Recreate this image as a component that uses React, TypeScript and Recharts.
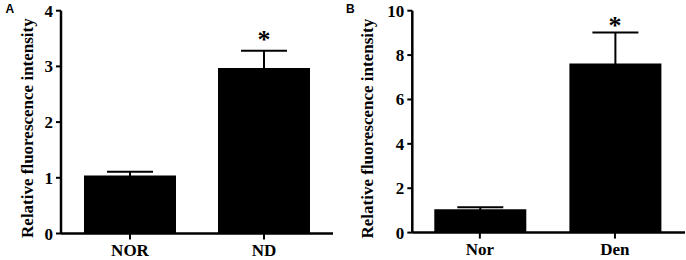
import { ComposedChart, Bar, XAxis, YAxis, ErrorBar, ReferenceDot, Label } from "recharts";

const categoriesA = ["NOR", "ND"];
const valuesA = [1.04, 2.97];
const errorsA = [0.07, 0.31];
const ticksA = [0, 1, 2, 3, 4];
const starA = 3.55;

const categoriesB = ["Nor", "Den"];
const valuesB = [1.05, 7.62];
const errorsB = [0.09, 1.4];
const ticksB = [0, 2, 4, 6, 8, 10];
const starB = 9.53;

const yTitle = "Relative fluorescence intensity";

const serif = "'Liberation Serif', 'Times New Roman', serif";
const tickStyle = { fill: "#000", fontSize: 17, fontWeight: "bold", fontFamily: serif };
const axisLine = { stroke: "#000", strokeWidth: 2.5 };
const tickLine = { stroke: "#000", strokeWidth: 2 };

// symmetric SEM; the lower half is hidden inside the black bar
const build = (cats: string[], vals: number[], errs: number[]) =>
  cats.map((name, i) => ({ name, value: vals[i], err: errs[i] }));

const renderStar = (props: any) => {
  const vb = props.viewBox || {};
  return (
    <text
      x={vb.x}
      y={vb.y + 12.6}
      textAnchor="middle"
      fontSize={26}
      fontWeight="bold"
      fontFamily={serif}
      fill="#000"
    >
      *
    </text>
  );
};

const yLabel = (shift: number) => (props: any) => {
  const vb = props.viewBox || {};
  const cy = vb.y + vb.height / 2 + shift;
  return (
    <text
      x={33.5}
      y={cy}
      transform={`rotate(-90, 33.5, ${cy})`}
      textAnchor="middle"
      fontSize={17}
      fontWeight="bold"
      fontFamily={serif}
      fill="#000"
    >
      {yTitle}
    </text>
  );
};

type PanelProps = {
  data: any[];
  ticks: number[];
  star: { name: string; y: number };
  width: number;
  yWidth: number;
  right: number;
  xHeight: number;
  pad: { left: number; right: number };
  shift: number;
};

const Panel = ({ data, ticks, star, width, yWidth, right, xHeight, pad, shift }: PanelProps) => (
  <ComposedChart
    width={width}
    height={260}
    data={data}
    margin={{ top: 10.7, right, left: 0, bottom: 0 }}
  >
    <XAxis
      dataKey="name"
      height={xHeight}
      interval={0}
      padding={pad}
      tick={tickStyle}
      tickSize={6}
      tickMargin={4}
      axisLine={axisLine}
      tickLine={tickLine}
    />
    <YAxis
      width={yWidth}
      domain={[0, ticks[ticks.length - 1]]}
      ticks={ticks}
      interval={0}
      tick={tickStyle}
      tickSize={5}
      tickMargin={3}
      axisLine={axisLine}
      tickLine={tickLine}
    >
      <Label content={yLabel(shift)} />
    </YAxis>
    <Bar dataKey="value" fill="#000" barSize={92} isAnimationActive={false}>
      <ErrorBar dataKey="err" direction="y" width={23} stroke="#000" strokeWidth={2} isAnimationActive={false} />
    </Bar>
    <ReferenceDot x={star.name} y={star.y} r={0} stroke="none" fill="none" label={renderStar} />
  </ComposedChart>
);

const letterStyle = { fontSize: 12, fontWeight: "bold", fontFamily: "'Liberation Sans', Arial, sans-serif" };

export default function App() {
  return (
    <div style={{ position: "absolute", left: 0, top: 0, width: 686, height: 260, background: "#fff" }}>
      <div style={{ position: "absolute", left: 0, top: 0 }}>
        <Panel
          data={build(categoriesA, valuesA, errorsA)}
          ticks={ticksA}
          star={{ name: categoriesA[1], y: starA }}
          width={340}
          yWidth={61}
          right={7}
          xHeight={26.5}
          pad={{ left: 2, right: 2 }}
          shift={6}
        />
      </div>
      <div style={{ position: "absolute", left: 340, top: 0 }}>
        <Panel
          data={build(categoriesB, valuesB, errorsB)}
          ticks={ticksB}
          star={{ name: categoriesB[1], y: starB }}
          width={346}
          yWidth={72.3}
          right={1}
          xHeight={27.4}
          pad={{ left: 0, right: 2.5 }}
          shift={7}
        />
      </div>
      <svg width={686} height={20} style={{ position: "absolute", left: 0, top: 0, pointerEvents: "none" }}>
        <text x={5.5} y={12.7} {...letterStyle}>A</text>
        <text x={346} y={12.7} {...letterStyle}>B</text>
      </svg>
    </div>
  );
}
